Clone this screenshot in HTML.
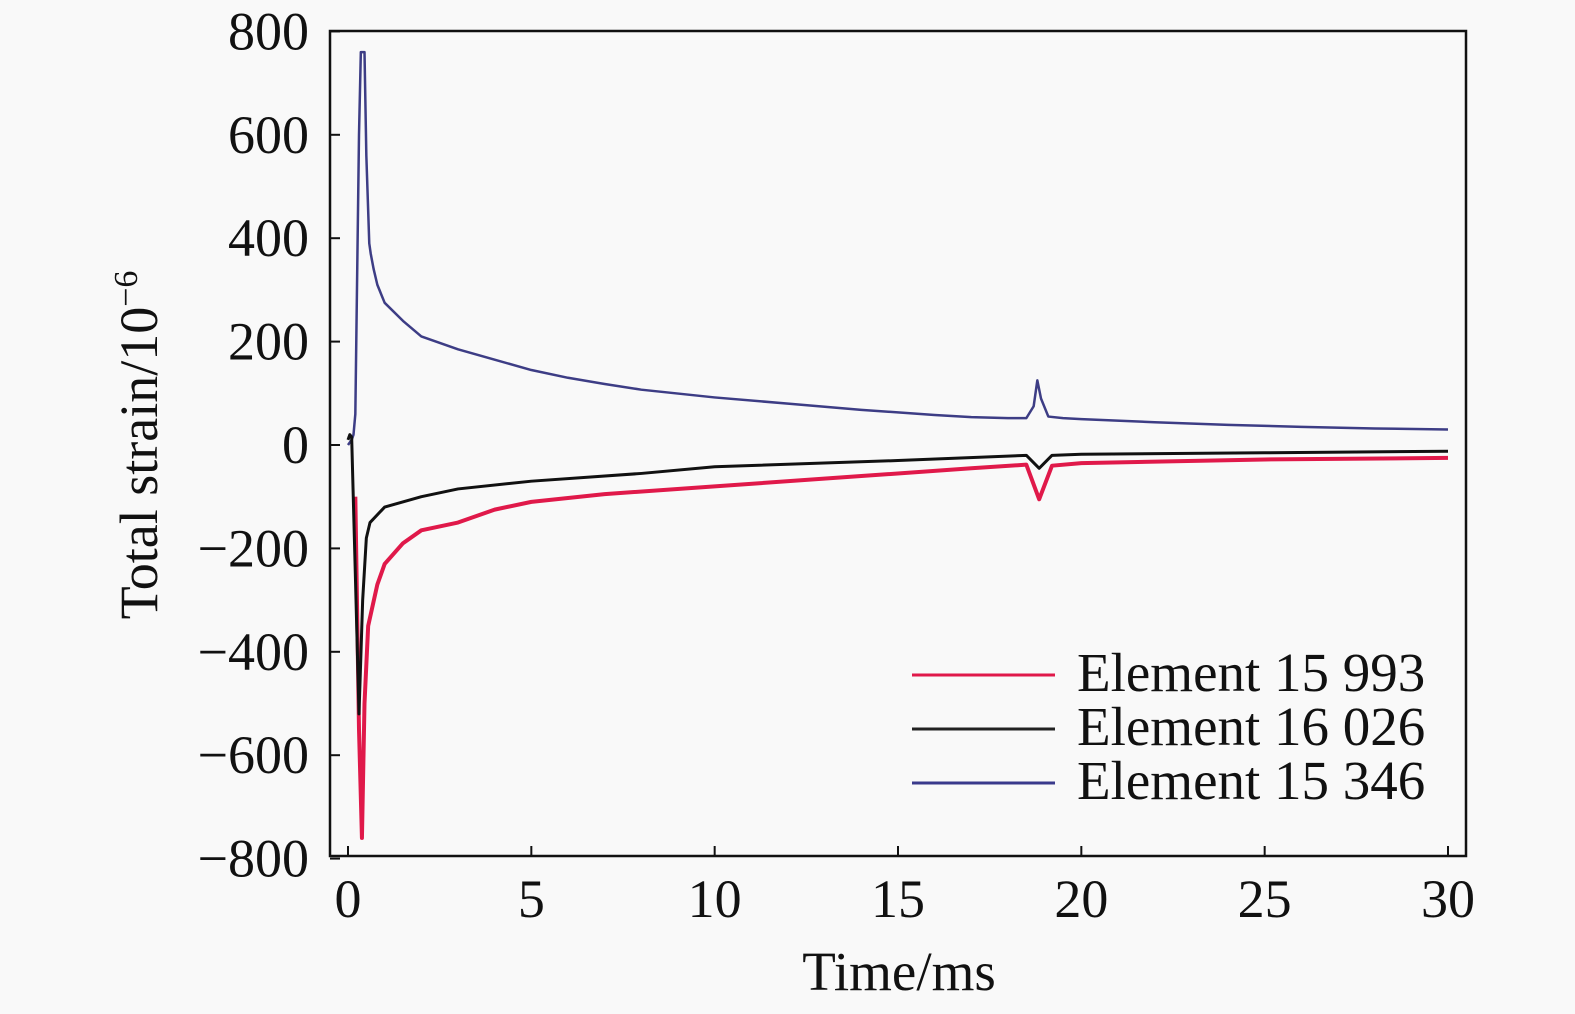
<!DOCTYPE html>
<html><head><meta charset="utf-8"><style>
html,body{margin:0;padding:0;background:#f9f9f9;}
svg{display:block;font-family:"Liberation Serif",serif;}
</style></head><body>
<svg id="chart" width="1575" height="1014" viewBox="0 0 1575 1014">
<rect x="0" y="0" width="1575" height="1014" fill="#f9f9f9"/>
<g id="marks"></g>
<rect x="330" y="31" width="1136" height="825" fill="none" stroke="#111" stroke-width="2.5"/>
<g id="axes"></g>
<text x="899" y="990" font-size="55" text-anchor="middle" fill="#111">Time/ms</text>
<text transform="translate(157,445) rotate(-90)" font-size="54" text-anchor="middle" fill="#111">Total strain/10<tspan dy="-20" font-size="34">−6</tspan></text>
<g>
<line x1="912" y1="675" x2="1055" y2="675" stroke="#e0194a" stroke-width="3"/>
<text x="1077" y="691" font-size="55" fill="#111">Element 15 993</text>
<line x1="912" y1="729" x2="1055" y2="729" stroke="#222" stroke-width="3"/>
<text x="1077" y="745" font-size="55" fill="#111">Element 16 026</text>
<line x1="912" y1="783" x2="1055" y2="783" stroke="#3a3a8c" stroke-width="3"/>
<text x="1077" y="799" font-size="55" fill="#111">Element 15 346</text>
</g>
</svg>
<script>
const xTicks=[0,5,10,15,20,25,30];
const yTicks=[-800,-600,-400,-200,0,200,400,600,800];
const yTickLabels=["−800","−600","−400","−200","0","200","400","600","800"];
const blueT=[0,0.1,0.15,0.2,0.3,0.35,0.45,0.5,0.58,0.62,0.7,0.8,1,1.5,2,3,4,5,6,7,8,10,12,14,16,17,18,18.5,18.7,18.8,18.9,19.1,19.5,20,22,24,26,28,30];
const blueV=[0,10,20,60,600,760,760,560,390,370,340,310,275,240,210,185,165,145,130,118,107,92,80,68,58,54,52,52,75,125,90,55,52,50,44,39,35,32,30];
const blackT=[0,0.05,0.1,0.2,0.3,0.4,0.5,0.6,1,2,3,5,8,10,15,18.5,18.85,19.2,20,25,30];
const blackV=[10,20,15,-250,-520,-300,-180,-150,-120,-100,-85,-70,-55,-42,-30,-20,-45,-20,-18,-15,-12];
const redT=[0.2,0.3,0.38,0.45,0.55,0.8,1,1.5,2,3,4,5,7,10,14,17,18.5,18.85,19.2,20,25,30];
const redV=[-100,-550,-760,-500,-350,-270,-230,-190,-165,-150,-125,-110,-95,-80,-60,-45,-38,-105,-40,-35,-28,-25];
const X=t=>348+t*(1100/30);
const Y=v=>445-v*0.517;
const NS="http://www.w3.org/2000/svg";
const axes=document.getElementById('axes'), marks=document.getElementById('marks');
xTicks.forEach((t,i)=>{
  const l=document.createElementNS(NS,'line');
  l.setAttribute('x1',X(t));l.setAttribute('x2',X(t));l.setAttribute('y1',856);l.setAttribute('y2',846);
  l.setAttribute('stroke','#111');l.setAttribute('stroke-width','2');
  
  
  axes.appendChild(l);
  const tx=document.createElementNS(NS,'text');
  tx.setAttribute('x',X(t));tx.setAttribute('y',917);tx.setAttribute('font-size','54');tx.setAttribute('text-anchor','middle');tx.setAttribute('fill','#111');
  tx.textContent=t;
  
  
  axes.appendChild(tx);
});
yTicks.forEach((v,i)=>{
  const l=document.createElementNS(NS,'line');
  l.setAttribute('x1',330);l.setAttribute('x2',340);l.setAttribute('y1',Y(v));l.setAttribute('y2',Y(v));
  l.setAttribute('stroke','#111');l.setAttribute('stroke-width','2');
  
  
  axes.appendChild(l);
  const tx=document.createElementNS(NS,'text');
  tx.setAttribute('x',309);tx.setAttribute('y',Y(v)+18);tx.setAttribute('font-size','54');tx.setAttribute('text-anchor','end');tx.setAttribute('fill','#111');
  tx.textContent=yTickLabels[i];
  
  
  axes.appendChild(tx);
});
function line(ts,vs,color,name,w){
  const p=document.createElementNS(NS,'polyline');
  p.setAttribute('points',ts.map((t,i)=>X(t)+','+Y(vs[i])).join(' '));
  p.setAttribute('fill','none');p.setAttribute('stroke',color);p.setAttribute('stroke-width',w);p.setAttribute('stroke-linejoin','round');
  
  
  marks.appendChild(p);
}
line(blueT,blueV,'#3d3d85','series-element-15346',2.5);
line(redT,redV,'#e0194a','series-element-15993',4);
line(blackT,blackV,'#111','series-element-16026',3);
</script>
</body></html>
